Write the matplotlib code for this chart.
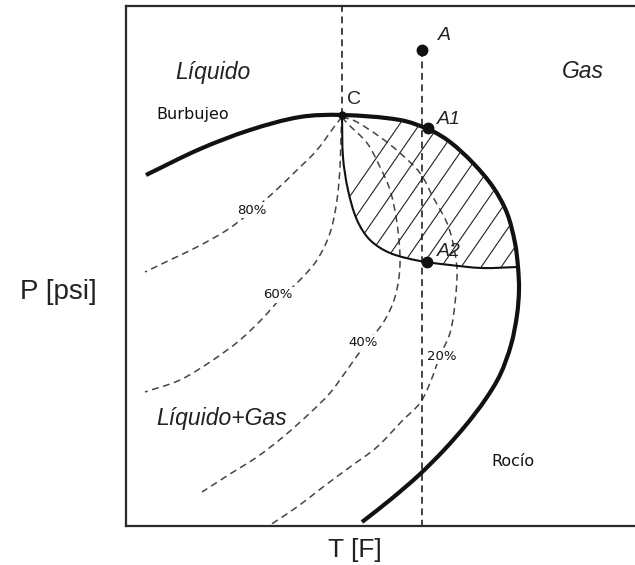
import numpy as np
import matplotlib
matplotlib.use("Agg")
import matplotlib.pyplot as plt
from matplotlib.path import Path
from matplotlib.patches import PathPatch

# schematic units: T and P in arbitrary units
# bubble + dew envelope (thick line), from left end through C to bottom
env_T = [20, 74, 124, 174, 216, 274, 304, 324, 347, 367, 381, 389, 392,
         393, 391, 385, 374, 359, 340, 318, 293, 264, 236]
env_P = [351, 377, 396, 409, 411, 406, 396, 384, 363, 339, 313, 283, 259,
         236, 211, 181, 151, 126, 101, 76, 51, 26, 4]
# thin curve bounding the hatched zone (C -> dew curve)
thin_T = [216, 217, 222, 231, 244, 264, 294, 324, 356, 392]
thin_P = [411, 369, 336, 306, 286, 273, 265, 261, 258, 259]

# quality lines
q80_T = [216, 211, 191, 171, 147, 126, 101, 71, 44, 19]
q80_P = [409, 403, 376, 356, 333, 315, 296, 279, 266, 254]
q60_T = [216, 215, 214, 211, 204, 191, 174, 155, 137, 114, 87, 54, 19]
q60_P = [411, 390, 359, 326, 293, 266, 246, 228, 208, 186, 166, 146, 134]
q40_T = [216, 221, 241, 254, 264, 271, 274, 269, 257, 239, 221, 204, 184,
         157, 131, 104, 76]
q40_P = [409, 403, 383, 359, 336, 303, 262, 229, 203, 181, 156, 133, 113,
         89, 69, 52, 34]
q20_T = [216, 229, 254, 274, 294, 307, 321, 327, 331, 329, 324, 314, 304,
         294, 277, 251, 224, 197, 171, 144]
q20_P = [409, 405, 389, 373, 353, 329, 303, 283, 256, 223, 193, 170, 143,
         123, 106, 79, 59, 39, 19, 1]
q_labels = ["80%", "60%", "40%", "20%"]
q_label_T = [126, 152, 237, 316]
q_label_P = [316, 231, 183, 170]

# points
pt_names = ["A", "A1", "A2"]
pt_T = [296, 302, 301]
pt_P = [476, 398, 264]
C_T, C_P = 216, 411
T_iso = 296          # isotherm through A


def smooth(T, P):
    # smooth curve through the read points (chord-length Catmull-Rom as Bezier)
    p = np.column_stack([T, P]).astype(float)
    d = np.hypot(*np.diff(p, axis=0).T)
    t = np.concatenate([[0], np.cumsum(d)])
    m = np.empty_like(p)
    m[0] = (p[1] - p[0]) / d[0]
    m[-1] = (p[-1] - p[-2]) / d[-1]
    m[1:-1] = (p[2:] - p[:-2]) / (t[2:] - t[:-2])[:, None]
    verts = [p[0]]
    for i in range(len(p) - 1):
        verts += [p[i] + m[i] * d[i] / 3, p[i + 1] - m[i + 1] * d[i] / 3,
                  p[i + 1]]
    codes = [Path.MOVETO] + [Path.CURVE4] * (len(verts) - 1)
    return verts, codes


fig = plt.figure(figsize=(6.35, 5.65), dpi=100)
ax = fig.add_axes([126 / 635, 39 / 565, 512 / 635, 520 / 565])
ax.set_xlim(0, 512)
ax.set_ylim(0, 520)
ax.set_xticks([])
ax.set_yticks([])
for s in ["left", "top", "bottom"]:
    ax.spines[s].set_linewidth(1.6)
    ax.spines[s].set_color("#2a2a2a")
ax.spines["right"].set_visible(False)

dash = (0, (4.5, 3))


def curve(T, P, **kw):
    v, c = smooth(T, P)
    patch = PathPatch(Path(v, c), fill=False, **kw)
    ax.add_patch(patch)
    return patch


# hatched region: dew part C -> right edge, then thin curve back to C
i_c = env_T.index(C_T)
i_end = env_T.index(392)
v1, c1 = smooth(env_T[i_c:i_end + 1], env_P[i_c:i_end + 1])
v2, c2 = smooth(thin_T[::-1], thin_P[::-1])
region_path = Path(v1 + v2 + [v1[0]],
                   c1 + [Path.LINETO] + c2[1:] + [Path.CLOSEPOLY])
region = PathPatch(region_path, facecolor="none", edgecolor="none")
ax.add_patch(region)
slope = 1.45
for c in np.arange(100, 420, 20):
    tt = np.array([c, c + 300])
    hl, = ax.plot(tt, (tt - c) * slope + 150, color="#222", lw=0.8)
    hl.set_clip_path(region)

# vertical dashed lines
ax.plot([C_T, C_T], [C_P, 520], color="#111", lw=1.1, ls=dash)
ax.plot([T_iso, T_iso], [pt_P[0], -4], color="#111", lw=1.1, ls=dash,
        clip_on=False)

# quality lines
for qt, qp in [(q80_T, q80_P), (q60_T, q60_P), (q40_T, q40_P), (q20_T, q20_P)]:
    curve(qt, qp, edgecolor="#444", lw=1.1, ls=dash)
for lab, x, y in zip(q_labels, q_label_T, q_label_P):
    ax.text(x, y, lab, ha="center", va="center", fontsize=9.5,
            family="DejaVu Sans", color="#111",
            bbox=dict(facecolor="white", edgecolor="none", pad=1.0))

# envelope and thin curve
curve(thin_T, thin_P, edgecolor="#111", lw=1.5)
curve(env_T, env_P, edgecolor="#111", lw=3.0, capstyle="butt")

# points
ax.plot(pt_T, pt_P, "o", color="#111", ms=7.5)
ax.plot([C_T], [C_P], "o", color="#111", ms=5)

# labels
it = dict(family="Liberation Sans", style="italic", color="#222")
ax.text(87, 454, "Líquido", fontsize=16.5, ha="center", va="center", **it)
ax.text(457, 454, "Gas", fontsize=16.5, ha="center", va="center", **it)
ax.text(96, 108, "Líquido+Gas", fontsize=16.5, ha="center", va="center", **it)
ax.text(318, 490, "A", fontsize=14, ha="center", va="center", **it)
ax.text(323, 406, "A1", fontsize=14, ha="center", va="center", **it)
ax.text(323, 274, "A2", fontsize=14, ha="center", va="center", **it)
ax.text(228, 426, "C", fontsize=14, ha="center", va="center",
        family="Liberation Sans", color="#222")
ax.text(67, 411, "Burbujeo", fontsize=11.5, ha="center", va="center",
        family="DejaVu Sans", color="#111")
ax.text(387, 65, "Rocío", fontsize=11.5, ha="center", va="center",
        family="DejaVu Sans", color="#111")

fig.text(58 / 635, 1 - 292 / 565, "P [psi]", fontsize=20, ha="center",
         va="center", family="Liberation Sans", color="#222")
fig.text(355 / 635, 1 - 550 / 565, "T [F]", fontsize=19, ha="center",
         va="center", family="Liberation Sans", color="#222")

fig.savefig("out.png", dpi=100)
